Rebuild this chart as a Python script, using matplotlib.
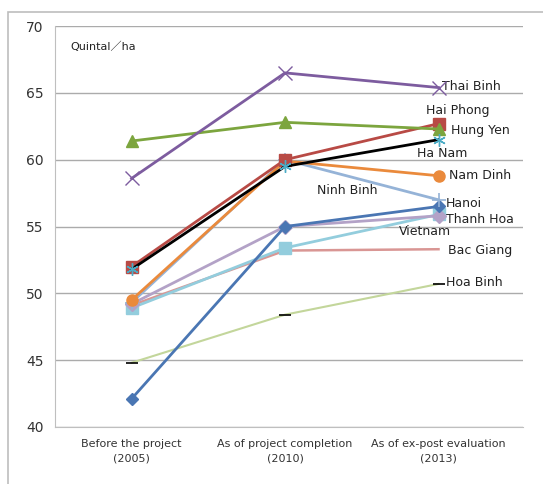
import matplotlib.pyplot as plt
from matplotlib.patches import Rectangle

## data
periods = ["Before the project\n(2005)", "As of project completion\n(2010)", "As of ex-post evaluation\n(2013)"]

thai_binh = [58.6, 66.5, 65.4]
hung_yen = [61.4, 62.8, 62.3]
hai_phong = [52.0, 60.0, 62.7]
ha_nam = [51.8, 59.5, 61.5]
nam_dinh = [49.5, 59.9, 58.8]
ninh_binh = [49.3, 60.0, 57.0]
hanoi = [42.1, 55.0, 56.5]
vietnam = [49.2, 55.0, 55.8]
thanh_hoa = [48.9, 53.4, 55.9]
bac_giang = [49.1, 53.2, 53.3]
hoa_binh = [44.8, 48.4, 50.7]

x = list(range(len(periods)))

fig = plt.figure(figsize=(5.43, 4.84), dpi=100)
ax = fig.add_axes([0.101, 0.118, 0.862, 0.828])

# outer chart frame
fig.patches.append(Rectangle((8 / 543, -0.05), 1.2, 1 - 12 / 484 + 0.05, transform=fig.transFigure,
                             fill=False, edgecolor="#bdbdbd", linewidth=1.2))

lw = 2.0
ax.plot(x, hoa_binh, color="#c3d69b", lw=1.5, marker="_", ms=9, mec="black", mew=1.2, zorder=3)
ax.plot(x, bac_giang, color="#d99694", lw=1.8, zorder=3)
ax.plot(x, thanh_hoa, color="#93cddd", lw=lw, marker="s", ms=9, zorder=4)
ax.plot(x, vietnam, color="#b3a2c7", lw=lw, marker="D", ms=7, zorder=4)
ax.plot(x, hanoi, color="#4a76b3", lw=lw, marker="D", ms=6, zorder=5)
ax.plot(x, ninh_binh, color="#95b3d7", lw=lw, marker="+", ms=10, mew=1.2, zorder=5)
ax.plot(x, nam_dinh, color="#ea8a3c", lw=lw, marker="o", ms=8, zorder=5)
ax.plot(x, ha_nam, color="black", lw=lw, marker=(6, 2, 0), ms=9, mec="#4bacc6", mew=1.0, zorder=6)
ax.plot(x, hai_phong, color="#b84a45", lw=lw, marker="s", ms=9, zorder=5)
ax.plot(x, hung_yen, color="#7ca53e", lw=lw, marker="^", ms=8, zorder=5)
ax.plot(x, thai_binh, color="#7d5c9f", lw=lw, marker="x", ms=10, mew=1.0, zorder=5)

ax.set_xlim(-0.5, 2.55)
ax.set_ylim(40, 70)
ax.set_yticks([40, 45, 50, 55, 60, 65, 70])
ax.set_xticks(x)
ax.set_xticklabels(periods, fontsize=8, color="#333333", linespacing=1.5)
ax.tick_params(axis="y", labelsize=10, colors="#333333", length=0, pad=8)
ax.tick_params(axis="x", length=0, pad=9)
ax.yaxis.grid(True, color="#ababab", lw=1.0)
ax.set_axisbelow(True)
for s in ["top", "right"]:
    ax.spines[s].set_visible(False)
ax.spines["left"].set_color("#bfbfbf")
ax.spines["bottom"].set_color("#bfbfbf")

ax.text(-0.4, 68.2, "Quintal／ha", fontsize=8, color="#222222",
        family=["DejaVu Sans", "Noto Sans CJK JP"])

# data labels
lab = dict(fontsize=9, color="#222222", va="center")
ax.text(2.02, 65.5, "Thai Binh", **lab)
ax.text(1.92, 63.7, "Hai Phong", **lab)
ax.text(2.08, 62.2, "Hung Yen", **lab)
ax.text(1.86, 60.5, "Ha Nam", **lab)
ax.text(2.07, 58.8, "Nam Dinh", **lab)
ax.text(1.21, 57.7, "Ninh Binh", **lab)
ax.text(2.05, 56.7, "Hanoi", **lab)
ax.text(2.05, 55.5, "Thanh Hoa", **lab)
ax.text(1.74, 54.6, "Vietnam", **lab)
ax.text(2.06, 53.2, "Bac Giang", **lab)
ax.text(2.05, 50.8, "Hoa Binh", **lab)

fig.savefig("out.png", dpi=100)
